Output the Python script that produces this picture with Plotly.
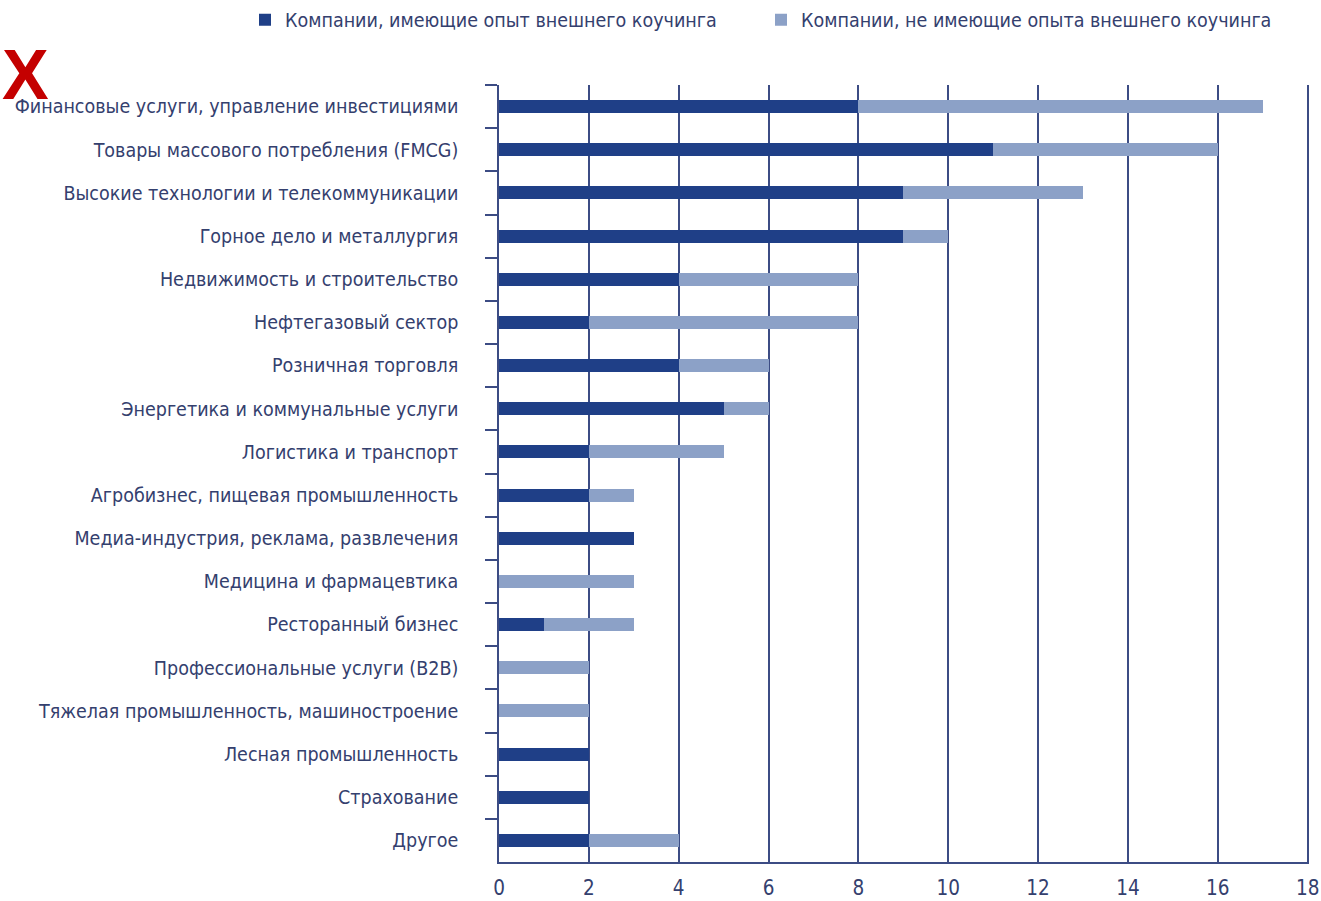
import plotly.graph_objects as go

categories = [
    "Финансовые услуги, управление инвестициями",
    "Товары массового потребления (FMCG)",
    "Высокие технологии и телекоммуникации",
    "Горное дело и металлургия",
    "Недвижимость и строительство",
    "Нефтегазовый сектор",
    "Розничная торговля",
    "Энергетика и коммунальные услуги",
    "Логистика и транспорт",
    "Агробизнес, пищевая промышленность",
    "Медиа-индустрия, реклама, развлечения",
    "Медицина и фармацевтика",
    "Ресторанный бизнес",
    "Профессиональные услуги (B2B)",
    "Тяжелая промышленность, машиностроение",
    "Лесная промышленность",
    "Страхование",
    "Другое",
]
with_coaching = [8, 11, 9, 9, 4, 2, 4, 5, 2, 2, 3, 0, 1, 0, 0, 2, 2, 2]
without_coaching = [9, 5, 4, 1, 4, 6, 2, 1, 3, 1, 0, 3, 2, 2, 2, 0, 0, 2]
series_names = [
    "Компании, имеющие опыт внешнего коучинга",
    "Компании, не имеющие опыта внешнего коучинга",
]
x_ticks = list(range(0, 19, 2))

DARK = "#1f3f87"
LIGHT = "#8ca1c7"
LINE = "#3c4c84"
TEXT = "#34406e"
FONT = "DejaVu Sans Condensed, DejaVu Sans, sans-serif"

W, H = 1321, 901
ML, MR, MT, MB = 499, 12, 85, 39
PW, PH = W - ML - MR, H - MT - MB

fig = go.Figure()
fig.add_trace(go.Bar(y=categories, x=with_coaching, orientation="h",
                     name=series_names[0], marker_color=DARK, marker_line_width=0))
fig.add_trace(go.Bar(y=categories, x=without_coaching, orientation="h",
                     name=series_names[1], marker_color=LIGHT, marker_line_width=0))

fig.update_layout(
    barmode="stack",
    bargap=0.7,
    width=W, height=H,
    margin=dict(l=ML, r=MR, t=MT, b=MB, autoexpand=False),
    paper_bgcolor="white", plot_bgcolor="white",
    font=dict(family=FONT, color=TEXT, size=19),
    legend=dict(orientation="h", x=(245 - ML) / PW, xref="paper",
                y=1 + (MT - 20) / PH, yref="paper",
                xanchor="left", yanchor="middle", font=dict(size=19.5, color=TEXT),
                itemwidth=30, entrywidth=471, entrywidthmode="pixels",
                traceorder="normal", bgcolor="rgba(0,0,0,0)"),
    annotations=[dict(text="<b>X</b>", x=0, y=1 + (MT - 75) / PH, xref="paper", yref="paper",
                      xanchor="left", yanchor="middle", showarrow=False,
                      font=dict(family="Liberation Sans, Arial, sans-serif", size=70,
                                color="#c40000"),
                      xshift=-ML)],
)
fig.update_xaxes(range=[0, 18.03], tickvals=x_ticks, ticktext=[str(v) for v in x_ticks],
                 showgrid=True, gridcolor=LINE, gridwidth=1.6,
                 showline=True, linecolor=LINE, linewidth=1.6,
                 ticks="", zeroline=False,
                 tickfont=dict(size=20.5, color=TEXT),
                 ticklabelstandoff=7, automargin=False)
fig.update_yaxes(categoryorder="array", categoryarray=categories, autorange="reversed",
                 tickson="boundaries", ticks="outside", ticklen=12, tickcolor=LINE,
                 tickwidth=1.6, showline=True, linecolor=LINE, linewidth=1.6,
                 showgrid=False, ticklabelstandoff=35, automargin=False,
                 tickfont=dict(size=19.5, color=TEXT))

fig.write_html("out.html", config={"displayModeBar": False},
               post_script="document.body.style.margin='0';")
